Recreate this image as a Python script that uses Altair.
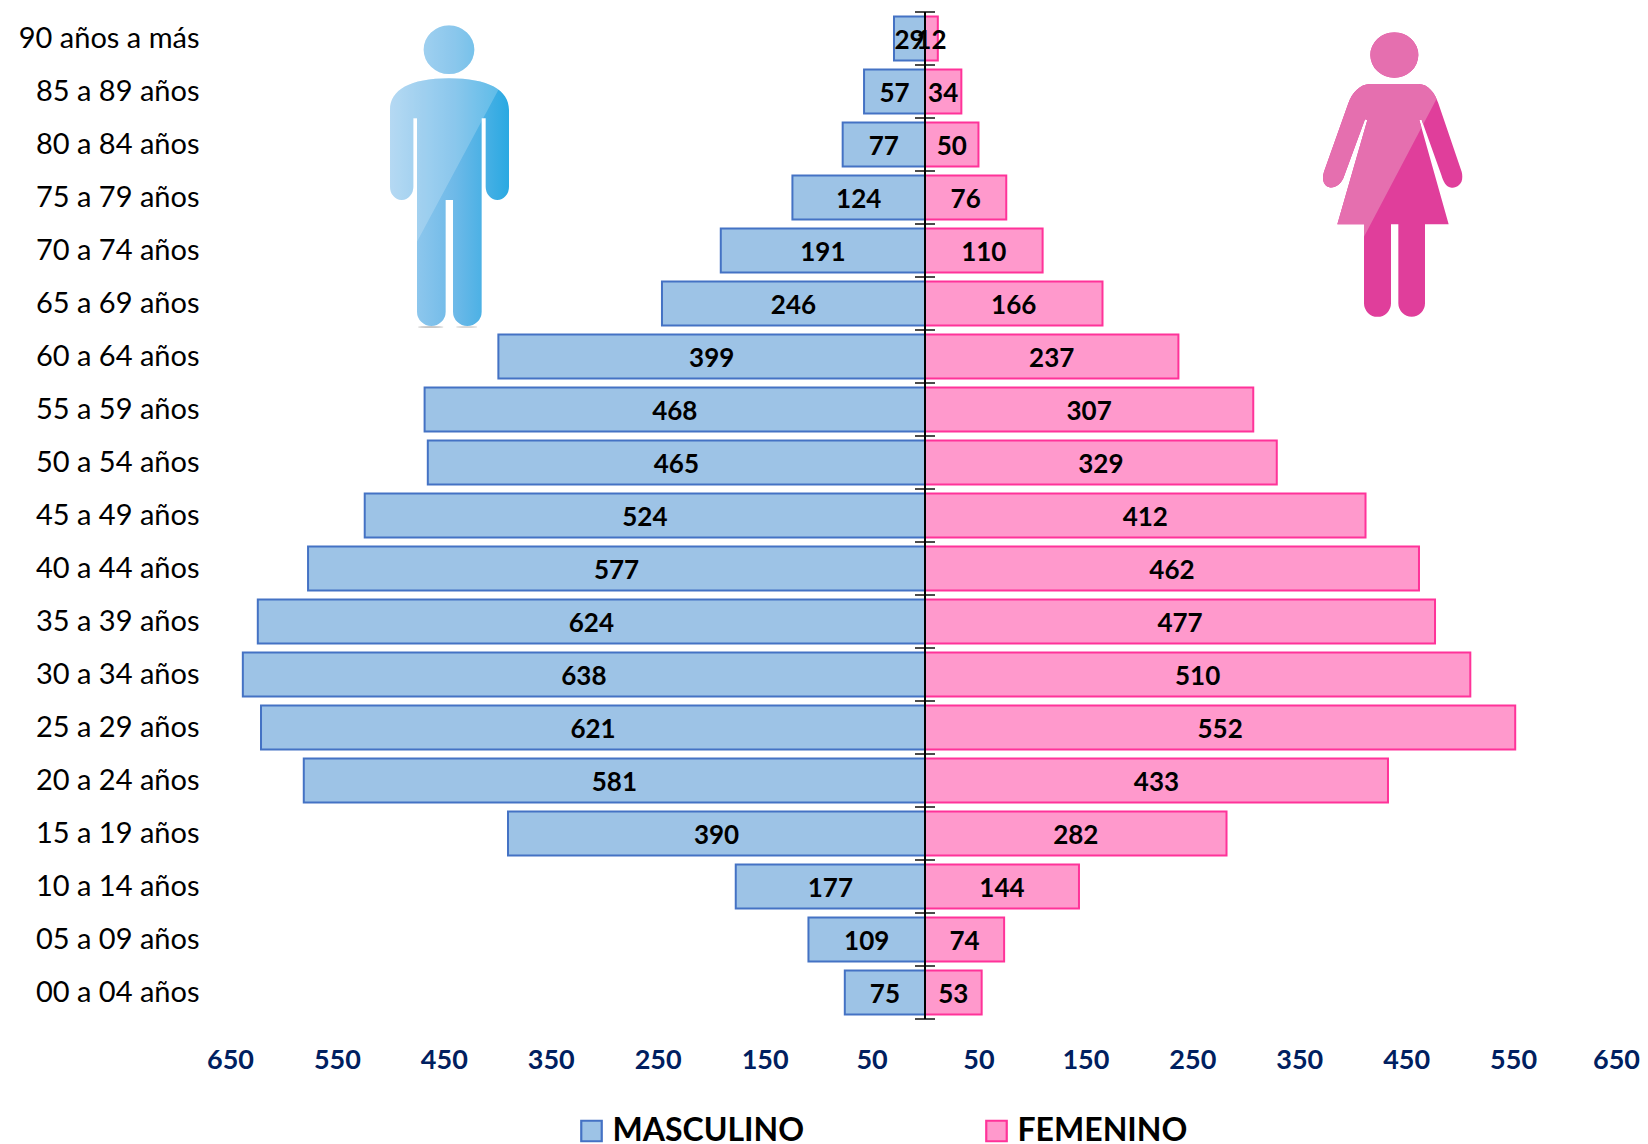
import base64
import altair as alt
import pandas as pd

# ---- values (top row of the pyramid first) ----
ages = ["90 años a más", "85 a 89 años", "80 a 84 años", "75 a 79 años", "70 a 74 años",
        "65 a 69 años", "60 a 64 años", "55 a 59 años", "50 a 54 años", "45 a 49 años",
        "40 a 44 años", "35 a 39 años", "30 a 34 años", "25 a 29 años", "20 a 24 años",
        "15 a 19 años", "10 a 14 años", "05 a 09 años", "00 a 04 años"]
masculino = [29, 57, 77, 124, 191, 246, 399, 468, 465, 524, 577, 624, 638, 621, 581, 390, 177, 109, 75]
femenino = [12, 34, 50, 76, 110, 166, 237, 307, 329, 412, 462, 477, 510, 552, 433, 282, 144, 74, 53]
x_ticks = [-650, -550, -450, -350, -250, -150, -50, 50, 150, 250, 350, 450, 550, 650]
series = ["MASCULINO", "FEMENINO"]
fills = ["#9DC3E6", "#FF99CC"]
strokes = ["#4472C4", "#FF3399"]
boundaries = list(range(len(ages) + 1))

rows = []
for a, m, f in zip(ages, masculino, femenino):
    rows.append({"age": a, "sexo": series[0], "valor": m, "signed": -m})
    rows.append({"age": a, "sexo": series[1], "valor": f, "signed": f})
df = pd.DataFrame(rows)

FONT = "Lato"
x_scale = alt.Scale(domain=[-650, 650], nice=False, zero=False)
y_band = alt.Scale(domain=ages, paddingInner=0.17, paddingOuter=0.085)

legend = alt.Legend(title=None, orient="none", legendX=345.5, legendY=1103, columns=2, columnPadding=176,
                    symbolType="square", symbolSize=420, symbolStrokeWidth=2.2, symbolOpacity=1,
                    labelFont=FONT, labelFontSize=32, labelFontWeight="bold", labelColor="#000000",
                    labelOffset=5, labelLimit=400, padding=0)

bars = alt.Chart(df).mark_bar(strokeWidth=2, opacity=1).encode(
    x=alt.X("signed:Q", scale=x_scale, stack=None, title=None,
            axis=alt.Axis(values=x_ticks, labelExpr="abs(datum.value)", domain=False, ticks=False,
                          grid=False, labelFont=FONT, labelFontSize=27, labelFontWeight="bold",
                          labelColor="#002060", labelPadding=28, labelFlush=False, labelOverlap=False,
                          labelOffset={"condition": {"test": "datum.value === 650", "value": -4}, "value": 0})),
    x2=alt.datum(0),
    y=alt.Y("age:N", scale=y_band, sort=ages, title=None,
            axis=alt.Axis(domain=False, ticks=False, grid=False, labelFont=FONT, labelFontSize=29,
                          labelColor="#000000", labelPadding=31, labelLimit=400, labelOffset=0)),
    fill=alt.Fill("sexo:N", scale=alt.Scale(domain=series, range=fills), sort=series, legend=legend),
    stroke=alt.Stroke("sexo:N", scale=alt.Scale(domain=series, range=strokes), sort=series, legend=legend),
)

axis_line = alt.Chart(df).mark_rule(color="#000000", strokeWidth=2).encode(
    x=alt.datum(0, scale=x_scale))

ticks = alt.Chart(pd.DataFrame({"b": boundaries})).mark_tick(
    orient="horizontal", size=20, thickness=2, color="#000000").encode(
    x=alt.datum(0, scale=x_scale),
    y=alt.Y("b:Q", scale=alt.Scale(domain=[0, len(ages)], reverse=True, nice=False, zero=False), axis=None),
)

labels = alt.Chart(df).transform_calculate(mid="datum.signed / 2").mark_text(
    font=FONT, fontSize=26, fontWeight="bold", color="#000000", dy=2.5).encode(
    x=alt.X("mid:Q", scale=x_scale),
    y=alt.Y("age:N", scale=y_band, sort=ages, axis=None),
    text=alt.Text("valor:Q"),
)

male_svg = """<svg xmlns="http://www.w3.org/2000/svg" width="540" height="990" viewBox="0 0 540 990">
<defs><linearGradient id="g" x1="90" x2="447" y1="0" y2="0" gradientUnits="userSpaceOnUse">
<stop offset="0" stop-color="#A3D0F0"/><stop offset="0.55" stop-color="#6DB9E8"/><stop offset="1" stop-color="#2AA9E2"/></linearGradient>
<clipPath id="c"><path d="M90 300C90 240 150 205 267 205C385 205 447 240 447 300L447 530A35 40 0 0 1 377 530L377 325L365 325L365 905A43 43 0 0 1 279 905L279 570L257 570L257 905A43 43 0 0 1 171 905L171 325L160 325L160 530A35 40 0 0 1 90 530Z"/><ellipse cx="267" cy="119" rx="76" ry="73"/></clipPath></defs>
<ellipse cx="212" cy="951" rx="38" ry="3" fill="#c8c8c8"/><ellipse cx="320" cy="951" rx="32" ry="3" fill="#d8d8d8"/>
<g clip-path="url(#c)"><rect width="540" height="990" fill="url(#g)"/>
<polygon points="0,0 540,0 540,60 415,240 171,695 0,695" fill="#ffffff" opacity="0.2"/></g></svg>"""

female_svg = """<svg xmlns="http://www.w3.org/2000/svg" width="600" height="960" viewBox="0 0 600 960">
<defs><clipPath id="c"><path d="M270 222L415 222C445 222 465 250 475 280L545 485C555 520 530 535 515 533C498 532 490 515 484 495L425 330L418 330L506 643L435 643L435 880A40 40 0 0 1 355 880L355 643L333 643L333 880A40 40 0 0 1 252 880L252 643L172 643L262 330L255 328L190 505C180 525 165 535 148 532C130 528 125 505 132 485L205 280C215 250 240 222 270 222Z"/><ellipse cx="343" cy="135" rx="72" ry="68"/></clipPath></defs>
<g clip-path="url(#c)"><rect width="600" height="960" fill="#E03E9B"/>
<polygon points="0,0 600,0 600,30 468,270 252,680 0,680" fill="#E56FAF"/></g></svg>"""


def uri(s):
    return "data:image/svg+xml;base64," + base64.b64encode(s.encode()).decode()


one = pd.DataFrame({"i": [0]})
male_icon = alt.Chart(one).mark_image(url=uri(male_svg), width=180, height=330, align="left", baseline="top").encode(
    x=alt.value(130), y=alt.value(-2))
female_icon = alt.Chart(one).mark_image(url=uri(female_svg), width=200, height=320, align="left", baseline="top").encode(
    x=alt.value(1050), y=alt.value(-2))

chart = alt.layer(male_icon, female_icon, bars, axis_line, ticks, labels).resolve_scale(
    y="independent"
).properties(
    width=1390, height=1007, autosize="none",
    padding={"left": 222, "top": 4, "right": 20, "bottom": 125},
).configure_view(stroke=None)

chart.save("out.html", embed_options={"renderer": "svg", "actions": False})
